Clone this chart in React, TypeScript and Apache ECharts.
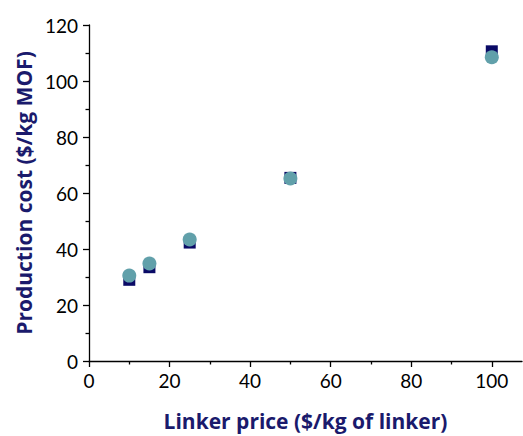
import React, { useEffect, useRef } from "react";
import * as echarts from "echarts";

const squareSeries: [number, number][] = [
  [10, 29.0],
  [15, 33.5],
  [25, 42.3],
  [50, 65.4],
  [100, 110.6],
];
const circleSeries: [number, number][] = [
  [10, 30.5],
  [15, 34.8],
  [25, 43.4],
  [50, 65.2],
  [100, 108.5],
];
const xMajorTicks = [0, 20, 40, 60, 80, 100];
const xMinorTicks = [10, 30, 50, 70, 90];
const xTitle = "Linker price ($/kg of linker)";
const yTitle = "Production cost ($/kg MOF)";

export default function App() {
  const ref = useRef<HTMLDivElement>(null);
  useEffect(() => {
    if (!ref.current) return;
    const chart = echarts.init(ref.current, undefined, { renderer: "svg" });
    const font = "Lato";
    const titleFont = "Open Sans";
    const titleColor = "#1a1a6c";
    chart.setOption({
      animation: false,
      backgroundColor: "#ffffff",
      grid: { left: 89, right: 1, top: 25, bottom: 73, containLabel: false },
      xAxis: [
        {
          type: "value",
          min: 0,
          max: 107.5,
          interval: 20,
          name: xTitle,
          nameLocation: "middle",
          nameGap: 49,
          nameTextStyle: { color: titleColor, fontFamily: titleFont, fontWeight: "bold", fontSize: 21 },
          axisLine: { show: true, onZero: false, lineStyle: { color: "#000", width: 1.3 } },
          axisTick: { show: true, inside: false, length: 6, customValues: xMajorTicks, lineStyle: { color: "#000", width: 1.3 } },
          axisLabel: { show: true, customValues: xMajorTicks, margin: 10, color: "#000", fontFamily: font, fontSize: 19 },
          splitLine: { show: false },
        },
        {
          type: "value",
          position: "bottom",
          min: 0,
          max: 107.5,
          interval: 20,
          axisLine: { show: false },
          axisTick: { show: true, inside: false, length: 3.5, customValues: xMinorTicks, lineStyle: { color: "#000", width: 1.3 } },
          axisLabel: { show: false },
          splitLine: { show: false },
        },
      ],
      yAxis: {
        type: "value",
        min: 0,
        max: 120,
        interval: 20,
        name: yTitle,
        nameLocation: "middle",
        nameGap: 54,
        nameTextStyle: { color: titleColor, fontFamily: titleFont, fontWeight: "bold", fontSize: 21 },
        axisLine: { show: true, onZero: false, lineStyle: { color: "#000", width: 1.3 } },
        axisTick: { show: true, inside: false, length: 6, lineStyle: { color: "#000", width: 1.3 } },
        minorTick: { show: true, splitNumber: 2, length: 3.5, lineStyle: { color: "#000", width: 1.3 } },
        axisLabel: { margin: 11, color: "#000", fontFamily: font, fontSize: 19 },
        splitLine: { show: false },
        minorSplitLine: { show: false },
      },
      series: [
        {
          type: "scatter",
          xAxisIndex: 0,
          data: squareSeries,
          symbol: "rect",
          symbolSize: 12,
          itemStyle: { color: "#0a0a66", opacity: 1 },
          z: 2,
        },
        {
          type: "scatter",
          xAxisIndex: 0,
          data: circleSeries,
          symbol: "circle",
          symbolSize: 14,
          itemStyle: { color: "#61a0aa", opacity: 1 },
          z: 3,
        },
      ],
    });
    return () => chart.dispose();
  }, []);
  return (
    <div
      ref={ref}
      style={{ position: "fixed", left: 0, top: 0, width: 523, height: 436 }}
    />
  );
}
